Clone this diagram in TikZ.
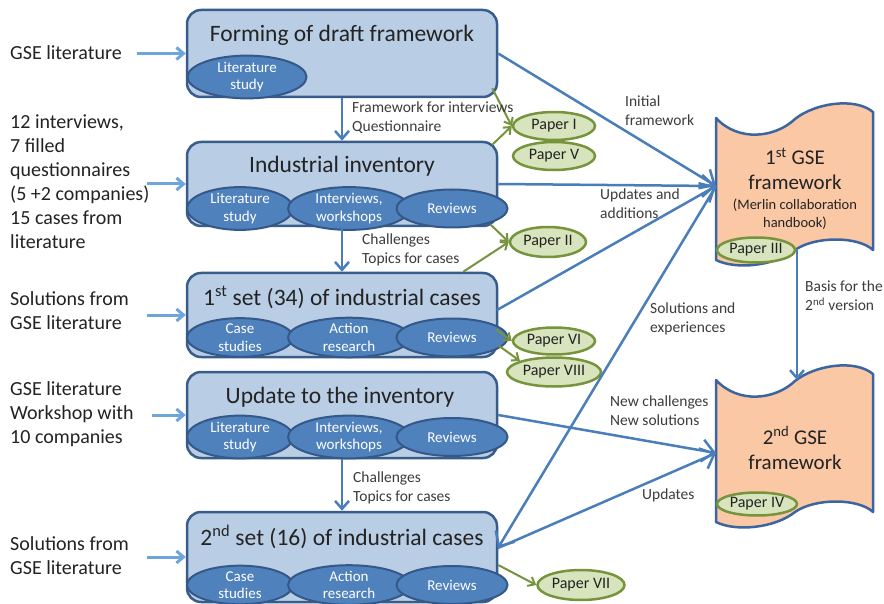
\documentclass[tikz,border=0pt]{standalone}
\usepackage{fontspec}
\setmainfont{Carlito}
\usetikzlibrary{shapes.geometric,arrows.meta}
\definecolor{boxfill}{RGB}{185,205,229}
\definecolor{boxline}{RGB}{56,93,138}
\definecolor{ellfill}{RGB}{79,129,189}
\definecolor{ellline}{RGB}{52,88,136}
\definecolor{arrowblue}{RGB}{74,126,187}
\definecolor{inblue}{RGB}{110,165,220}
\definecolor{grnline}{RGB}{119,147,60}
\definecolor{grnfill}{RGB}{215,228,189}
\definecolor{docfill}{RGB}{250,200,165}
\definecolor{docline}{RGB}{60,100,160}
\definecolor{txt}{RGB}{35,35,35}
\definecolor{lbltxt}{RGB}{60,60,60}
\tikzset{
  stagebox/.style={draw=boxline, fill=boxfill, line width=2.5pt, rounded corners=14pt,
    minimum width=310pt, minimum height=#1, inner sep=0pt},
  method/.style={ellipse, draw=ellline, fill=ellfill, line width=2pt, minimum width=#1,
    minimum height=38pt, inner sep=0pt, text=white, align=center,
    font=\fontsize{15}{17.5}\selectfont},
  paper/.style={ellipse, draw=grnline, fill=grnfill, line width=2.5pt, minimum width=#1,
    inner sep=0pt, text=txt, font=\fontsize{16}{18}\selectfont},
  stagetitle/.style={text=txt, inner sep=0pt, font=\fontsize{23.5}{27}\selectfont},
  intext/.style={text=txt, inner sep=0pt, anchor=west, align=left,
    font=\fontsize{20}{24}\selectfont},
  lbl/.style={text=lbltxt, inner sep=0pt, anchor=west, align=left,
    font=\fontsize{15.5}{19}\selectfont},
  doctitle/.style={text=txt, inner sep=0pt, align=center, font=\fontsize{21}{25}\selectfont},
  docsub/.style={text=txt, inner sep=0pt, align=center, font=\fontsize{14.5}{18.5}\selectfont},
  doc/.style={draw=docline, fill=docfill, line width=2.5pt, line join=round},
  flow/.style={draw=arrowblue, line width=2.5pt, -{Straight Barb[length=8pt,width=14pt]}},
  bigflow/.style={draw=arrowblue, line width=2.5pt, -{Straight Barb[length=12pt,width=22pt]}},
  inflow/.style={draw=inblue, line width=3pt, -{Straight Barb[length=7pt,width=12pt]}},
  grflow/.style={draw=grnline, line width=2pt, -{Straight Barb[length=6pt,width=10pt]}},
}
\begin{document}
\begin{tikzpicture}[x=1pt,y=-1pt]
\useasboundingbox (0,0) rectangle (884,604);
\fill[white] (0,0) rectangle (884,604);

% documents
\draw[doc] (716,118) .. controls (738,142) and (775,138) .. (795,119)
  .. controls (815,103) and (855,97) .. (873,112) -- (873,250)
  .. controls (858,236) and (815,236) .. (795,250)
  .. controls (775,266) and (736,270) .. (716,260) -- cycle;
\draw[doc] (716,380) .. controls (738,404) and (775,400) .. (795,381)
  .. controls (815,365) and (855,359) .. (873,374) -- (873,512)
  .. controls (858,498) and (815,498) .. (795,512)
  .. controls (775,528) and (736,532) .. (716,522) -- cycle;
\node[doctitle] (d1title) at (795,169) {1\textsuperscript{st} GSE\\framework};
\node[docsub] (d1sub) at (795,214) {(Merlin collaboration\\handbook)};
\node[doctitle] (d2title) at (795,448) {2\textsuperscript{nd} GSE\\framework};
\coordinate (d1in) at (716,186);
\coordinate (d2in) at (716,453);
\coordinate (d1b) at (797,249);
\coordinate (d2top) at (797,380);

% stage boxes
\node[stagebox=87pt] (b1) at (342,53.5) {};
\node[stagebox=84pt] (b2) at (342,184) {};
\node[stagebox=84pt] (b3) at (342,315) {};
\node[stagebox=86pt] (b4) at (342,415) {};
\node[stagebox=90pt] (b5) at (342,557) {};

\node[stagetitle] (b1t) at (342,35) {Forming of draft framework};
\node[stagetitle] (b2t) at (342,166) {Industrial inventory};
\node[stagetitle] (b3t) at (342,297) {1\textsuperscript{st} set (34) of industrial cases};
\node[stagetitle] (b4t) at (340,397) {Update to the inventory};
\node[stagetitle] (b5t) at (342,537) {2\textsuperscript{nd} set (16) of industrial cases};

% methods
\node[method=119pt] (m11) at (247,77) {Literature\\study};
\node[method=106pt] (m21) at (240,208.5) {Literature\\study};
\node[method=122pt] (m22) at (349,208.5) {Interviews,\\workshops};
\node[method=111pt] (m23) at (452,208.5) {Reviews};
\node[method=106pt] (m31) at (240,337.5) {Case\\studies};
\node[method=122pt] (m32) at (349,337.5) {Action\\research};
\node[method=111pt] (m33) at (452,337.5) {Reviews};
\node[method=106pt] (m41) at (240,437) {Literature\\study};
\node[method=122pt] (m42) at (349,437) {Interviews,\\workshops};
\node[method=111pt] (m43) at (452,437) {Reviews};
\node[method=106pt] (m51) at (240,585) {Case\\studies};
\node[method=122pt] (m52) at (349,585) {Action\\research};
\node[method=111pt] (m53) at (452,585) {Reviews};

% papers
\node[paper=82pt, minimum height=28pt] (p1) at (554,126) {Paper I};
\node[paper=82pt, minimum height=28pt] (p5) at (554,156) {Paper V};
\node[paper=76pt, minimum height=30pt] (p2) at (548,242) {Paper II};
\node[paper=78pt, minimum height=25pt] (p3) at (756,250) {Paper III};
\node[paper=82pt, minimum height=27pt] (p6) at (554,341) {Paper VI};
\node[paper=94pt, minimum height=29pt] (p8) at (554,372) {Paper VIII};
\node[paper=80pt, minimum height=23pt] (p4) at (757,504) {Paper IV};
\node[paper=87pt, minimum height=30pt] (p7) at (581,585) {Paper VII};

% left inputs
\node[intext] (t1) at (10,53) {GSE literature};
\node[intext] (t2) at (10,182) {12 interviews,\\7 filled\\questionnaires\\(5 +2 companies)\\15 cases from\\literature};
\node[intext] (t3) at (10,311) {Solutions from\\GSE literature};
\node[intext] (t4) at (10,414) {GSE literature\\Workshop with\\10 companies};
\node[intext] (t5) at (10,556) {Solutions from\\GSE literature};
\coordinate (i1) at (137,53.5);
\coordinate (i2) at (147,184);
\coordinate (i3) at (147,315);
\coordinate (i4) at (152,415);
\coordinate (i5) at (147,557);
\draw[inflow] (i1) -- (b1.west);
\draw[inflow] (i2) -- (b2.west);
\draw[inflow] (i3) -- (b3.west);
\draw[inflow] (i4) -- (b4.west);
\draw[inflow] (i5) -- (b5.west);

% vertical flows
\draw[flow] (b1.south) -- (b2.north);
\draw[flow] (b2.south) -- (b3.north);
\draw[flow] (b4.south) -- (b5.north);

% flows to / from documents
\coordinate (b3out) at (497,310);
\coordinate (b5in) at (498,548);
\draw[bigflow] (b1.east) -- (d1in);
\draw[bigflow] (b2.east) -- (d1in);
\draw[bigflow] (b3out) -- (d1in);
\draw[bigflow] (d1in) -- (b5in);
\draw[bigflow] (b4.east) -- (d2in);
\draw[bigflow] (b5in) -- (d2in);
\draw[flow] (d1b) -- (d2top);

% green flows to papers
\draw[grflow] ([shift={(-6,-10)}]b1.south east) -- (p1.west);
\draw[grflow] ([shift={(-6,4)}]b2.north east) -- (p1.west);
\draw[grflow] ([shift={(-8,-3)}]b2.south east) -- (p2.west);
\draw[grflow] ([shift={(-35,0)}]b3.north east) -- (p2.west);
\draw[grflow] ([shift={(-12,-8)}]m33.east) -- (p6.west);
\draw[grflow] ([shift={(-10,8)}]m33.east) -- (p8.north west);
\draw[grflow] ([shift={(0,8)}]b5.east) -- (p7.west);

% labels
\node[lbl] (l1) at (352,117.5) {Framework for interviews\\Questionnaire};
\node[lbl] (l2) at (362,250) {Challenges\\Topics for cases};
\node[lbl] (l3) at (353,488) {Challenges\\Topics for cases};
\node[lbl] (l4) at (625,111) {Initial\\framework};
\node[lbl] (l5) at (600,204) {Updates and\\additions};
\node[lbl] (l6) at (650,319) {Solutions and\\experiences};
\node[lbl] (l7) at (805,296) {Basis for the\\2\textsuperscript{nd} version};
\node[lbl] (l8) at (610,411) {New challenges\\New solutions};
\node[lbl] (l9) at (642,495) {Updates};
\end{tikzpicture}
\end{document}
